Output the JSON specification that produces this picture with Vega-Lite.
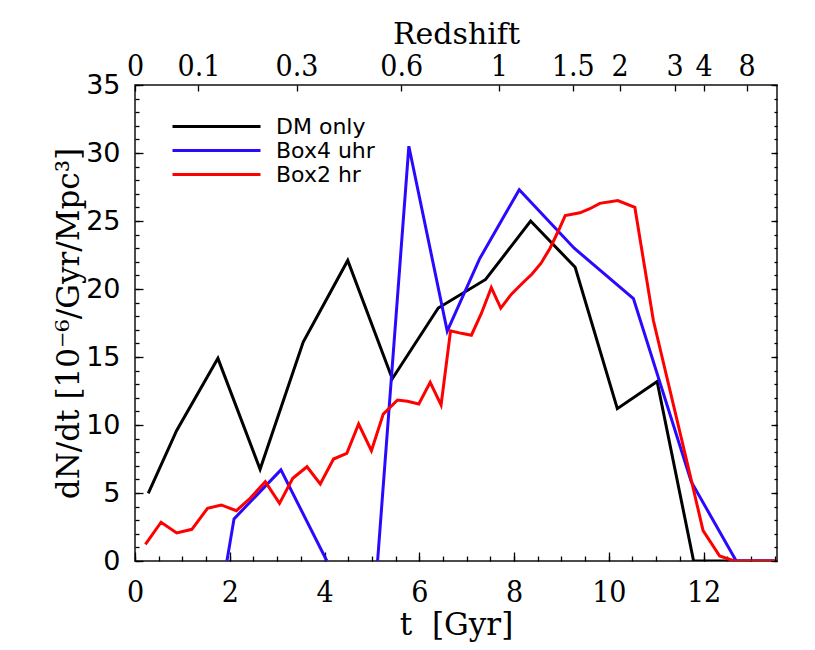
{
  "$schema": "https://vega.github.io/schema/vega-lite/v6.json",
  "autosize": {"type": "none"},
  "width": 642,
  "height": 476,
  "padding": {"left": 135, "top": 85, "right": 38, "bottom": 89},
  "background": "white",
  "config": {
    "view": {"stroke": "#111111", "strokeWidth": 1.5},
    "axis": {"domain": false, "grid": false, "ticks": true, "zindex": 1, "tickColor": "#000000", "tickWidth": 1.3, "tickOpacity": 1, "labelColor": "black", "titleColor": "black", "titleFontWeight": "normal"},
    "axisX": {"ticks": true, "tickColor": "#000000", "tickWidth": 1.3, "tickOpacity": 1},
    "axisY": {"ticks": true, "tickColor": "#000000", "tickWidth": 1.3, "tickOpacity": 1}
  },
  "data": {"values": [
    {"s": "DM only", "seg": "a", "t": 0.28, "v": 4.98},
    {"s": "DM only", "seg": "a", "t": 0.88, "v": 9.6},
    {"s": "DM only", "seg": "a", "t": 1.75, "v": 14.9},
    {"s": "DM only", "seg": "a", "t": 2.64, "v": 6.74},
    {"s": "DM only", "seg": "a", "t": 3.55, "v": 16.1},
    {"s": "DM only", "seg": "a", "t": 4.49, "v": 22.1},
    {"s": "DM only", "seg": "a", "t": 5.43, "v": 13.4},
    {"s": "DM only", "seg": "a", "t": 6.40, "v": 18.6},
    {"s": "DM only", "seg": "a", "t": 7.40, "v": 20.7},
    {"s": "DM only", "seg": "a", "t": 8.35, "v": 25.0},
    {"s": "DM only", "seg": "a", "t": 9.29, "v": 21.6},
    {"s": "DM only", "seg": "a", "t": 10.18, "v": 11.2},
    {"s": "DM only", "seg": "a", "t": 11.02, "v": 13.2},
    {"s": "DM only", "seg": "a", "t": 11.79, "v": 0},
    {"s": "DM only", "seg": "a", "t": 12.70, "v": 0},
    {"s": "DM only", "seg": "a", "t": 13.50, "v": 0},
    {"s": "Box4 uhr", "seg": "a", "t": 1.94, "v": 0},
    {"s": "Box4 uhr", "seg": "a", "t": 2.09, "v": 3.1},
    {"s": "Box4 uhr", "seg": "a", "t": 3.08, "v": 6.7},
    {"s": "Box4 uhr", "seg": "a", "t": 4.05, "v": 0},
    {"s": "Box4 uhr", "seg": "b", "t": 5.12, "v": 0},
    {"s": "Box4 uhr", "seg": "b", "t": 5.78, "v": 30.5},
    {"s": "Box4 uhr", "seg": "b", "t": 6.59, "v": 16.9},
    {"s": "Box4 uhr", "seg": "b", "t": 7.27, "v": 22.2},
    {"s": "Box4 uhr", "seg": "b", "t": 8.11, "v": 27.3},
    {"s": "Box4 uhr", "seg": "b", "t": 9.27, "v": 23.0},
    {"s": "Box4 uhr", "seg": "b", "t": 10.52, "v": 19.3},
    {"s": "Box4 uhr", "seg": "b", "t": 11.74, "v": 5.83},
    {"s": "Box4 uhr", "seg": "b", "t": 12.69, "v": 0},
    {"s": "Box4 uhr", "seg": "b", "t": 13.50, "v": 0},
    {"s": "Box2 hr", "seg": "a", "t": 0.22, "v": 1.23},
    {"s": "Box2 hr", "seg": "a", "t": 0.55, "v": 2.85},
    {"s": "Box2 hr", "seg": "a", "t": 0.88, "v": 2.06},
    {"s": "Box2 hr", "seg": "a", "t": 1.20, "v": 2.33},
    {"s": "Box2 hr", "seg": "a", "t": 1.53, "v": 3.87},
    {"s": "Box2 hr", "seg": "a", "t": 1.82, "v": 4.12},
    {"s": "Box2 hr", "seg": "a", "t": 2.14, "v": 3.70},
    {"s": "Box2 hr", "seg": "a", "t": 2.43, "v": 4.61},
    {"s": "Box2 hr", "seg": "a", "t": 2.75, "v": 5.83},
    {"s": "Box2 hr", "seg": "a", "t": 3.05, "v": 4.24},
    {"s": "Box2 hr", "seg": "a", "t": 3.33, "v": 6.08},
    {"s": "Box2 hr", "seg": "a", "t": 3.63, "v": 6.93},
    {"s": "Box2 hr", "seg": "a", "t": 3.91, "v": 5.66},
    {"s": "Box2 hr", "seg": "a", "t": 4.19, "v": 7.50},
    {"s": "Box2 hr", "seg": "a", "t": 4.47, "v": 7.92},
    {"s": "Box2 hr", "seg": "a", "t": 4.72, "v": 10.07},
    {"s": "Box2 hr", "seg": "a", "t": 4.99, "v": 8.11},
    {"s": "Box2 hr", "seg": "a", "t": 5.24, "v": 10.80},
    {"s": "Box2 hr", "seg": "a", "t": 5.54, "v": 11.84},
    {"s": "Box2 hr", "seg": "a", "t": 5.75, "v": 11.74},
    {"s": "Box2 hr", "seg": "a", "t": 5.99, "v": 11.54},
    {"s": "Box2 hr", "seg": "a", "t": 6.23, "v": 13.14},
    {"s": "Box2 hr", "seg": "a", "t": 6.46, "v": 11.47},
    {"s": "Box2 hr", "seg": "a", "t": 6.66, "v": 16.93},
    {"s": "Box2 hr", "seg": "a", "t": 6.89, "v": 16.74},
    {"s": "Box2 hr", "seg": "a", "t": 7.10, "v": 16.60},
    {"s": "Box2 hr", "seg": "a", "t": 7.31, "v": 18.20},
    {"s": "Box2 hr", "seg": "a", "t": 7.52, "v": 20.10},
    {"s": "Box2 hr", "seg": "a", "t": 7.72, "v": 18.60},
    {"s": "Box2 hr", "seg": "a", "t": 7.94, "v": 19.60},
    {"s": "Box2 hr", "seg": "a", "t": 8.17, "v": 20.40},
    {"s": "Box2 hr", "seg": "a", "t": 8.38, "v": 21.10},
    {"s": "Box2 hr", "seg": "a", "t": 8.57, "v": 21.90},
    {"s": "Box2 hr", "seg": "a", "t": 8.76, "v": 23.00},
    {"s": "Box2 hr", "seg": "a", "t": 8.94, "v": 24.30},
    {"s": "Box2 hr", "seg": "a", "t": 9.08, "v": 25.40},
    {"s": "Box2 hr", "seg": "a", "t": 9.39, "v": 25.60},
    {"s": "Box2 hr", "seg": "a", "t": 9.60, "v": 25.90},
    {"s": "Box2 hr", "seg": "a", "t": 9.81, "v": 26.30},
    {"s": "Box2 hr", "seg": "a", "t": 10.19, "v": 26.50},
    {"s": "Box2 hr", "seg": "a", "t": 10.55, "v": 26.00},
    {"s": "Box2 hr", "seg": "a", "t": 10.94, "v": 17.70},
    {"s": "Box2 hr", "seg": "a", "t": 11.74, "v": 5.96},
    {"s": "Box2 hr", "seg": "a", "t": 11.99, "v": 2.23},
    {"s": "Box2 hr", "seg": "a", "t": 12.34, "v": 0.37},
    {"s": "Box2 hr", "seg": "a", "t": 12.65, "v": 0},
    {"s": "Box2 hr", "seg": "a", "t": 13.50, "v": 0}
  ]},
  "layer": [
    {
      "transform": [{"filter": "datum.s === 'DM only'"}],
      "mark": {"type": "line", "strokeWidth": 3, "clip": true},
      "encoding": {
        "x": {
          "field": "t", "type": "quantitative",
          "scale": {"domain": [0, 13.55], "nice": false, "zero": false},
          "axis": {
            "orient": "bottom", "title": "t\u00a0 [Gyr]",
            "values": [0, 2, 4, 6, 8, 10, 12],
            "labelExpr": "'' + datum.value",
            "ticks": true, "tickColor": "#000000", "tickWidth": 1.3, "tickOpacity": 1,
            "offset": -9, "tickSize": 9, "labelPadding": 16,
            "labelFont": "DejaVu Serif Condensed", "labelFontSize": 30,
            "labelFlush": false, "labelOverlap": false,
            "titleFont": "DejaVu Serif", "titleFontSize": 31, "titlePadding": 3
          }
        },
        "y": {
          "field": "v", "type": "quantitative",
          "scale": {"domain": [0, 35], "nice": false},
          "axis": {
            "orient": "left", "title": "dN/dt [10⁻⁶/Gyr/Mpc³]",
            "values": [0, 5, 10, 15, 20, 25, 30, 35],
            "ticks": true, "tickColor": "#000000", "tickWidth": 1.3, "tickOpacity": 1,
            "offset": -8, "tickSize": 8, "labelPadding": 15,
            "labelFont": "DejaVu Sans", "labelFontSize": 27, "labelOverlap": false,
            "titleFont": "DejaVu Serif", "titleFontSize": 31, "titlePadding": 0
          }
        },
        "color": {
          "field": "s", "type": "nominal",
          "scale": {"domain": ["DM only", "Box4 uhr", "Box2 hr"], "range": ["#000000", "#2a0aff", "#ff0000"]},
          "legend": {
            "orient": "none", "legendX": 70, "legendY": 30, "title": null,
            "symbolType": "M-4.4,0H4.4", "symbolSize": 400, "symbolStrokeWidth": 3,
            "rowPadding": 1, "labelFont": "DejaVu Sans", "labelFontSize": 22,
            "labelColor": "black", "labelOffset": 48, "padding": 0
          }
        }
      }
    },
    {
      "transform": [{"filter": "datum.s === 'Box4 uhr' && datum.seg === 'a'"}],
      "mark": {"type": "line", "strokeWidth": 3, "clip": true},
      "encoding": {
        "x": {
          "field": "t", "type": "quantitative",
          "scale": {"domain": [0, 13.55], "nice": false, "zero": false},
          "axis": {
            "orient": "bottom", "title": null, "labels": false,
            "values": [0,0.5,1,1.5,2,2.5,3,3.5,4,4.5,5,5.5,6,6.5,7,7.5,8,8.5,9,9.5,10,10.5,11,11.5,12,12.5,13,13.5],
            "ticks": true, "tickColor": "#000000", "tickWidth": 1.3, "tickOpacity": 1,
            "offset": -5, "tickSize": 5
          }
        },
        "y": {
          "field": "v", "type": "quantitative",
          "scale": {"domain": [0, 35], "nice": false},
          "axis": {
            "orient": "left", "title": null, "labels": false,
            "values": [0,1,2,3,4,5,6,7,8,9,10,11,12,13,14,15,16,17,18,19,20,21,22,23,24,25,26,27,28,29,30,31,32,33,34,35],
            "ticks": true, "tickColor": "#000000", "tickWidth": 1.3, "tickOpacity": 1,
            "offset": -4, "tickSize": 4
          }
        },
        "color": {
          "field": "s", "type": "nominal",
          "scale": {"domain": ["DM only", "Box4 uhr", "Box2 hr"], "range": ["#000000", "#2a0aff", "#ff0000"]},
          "legend": {
            "orient": "none", "legendX": 70, "legendY": 30, "title": null,
            "symbolType": "M-4.4,0H4.4", "symbolSize": 400, "symbolStrokeWidth": 3,
            "rowPadding": 1, "labelFont": "DejaVu Sans", "labelFontSize": 22,
            "labelColor": "black", "labelOffset": 48, "padding": 0
          }
        }
      }
    },
    {
      "transform": [{"filter": "datum.s === 'Box4 uhr' && datum.seg === 'b'"}],
      "mark": {"type": "line", "strokeWidth": 3, "clip": true},
      "encoding": {
        "x": {
          "field": "t", "type": "quantitative",
          "scale": {"domain": [0, 13.55], "nice": false, "zero": false},
          "axis": null
        },
        "y": {
          "field": "v", "type": "quantitative",
          "scale": {"domain": [0, 35], "nice": false},
          "axis": {
            "orient": "right", "title": null, "labels": false,
            "values": [0,1,2,3,4,5,6,7,8,9,10,11,12,13,14,15,16,17,18,19,20,21,22,23,24,25,26,27,28,29,30,31,32,33,34,35],
            "ticks": true, "tickColor": "#000000", "tickWidth": 1.3, "tickOpacity": 1,
            "offset": -3, "tickSize": 3
          }
        },
        "color": {
          "field": "s", "type": "nominal",
          "scale": {"domain": ["DM only", "Box4 uhr", "Box2 hr"], "range": ["#000000", "#2a0aff", "#ff0000"]},
          "legend": {
            "orient": "none", "legendX": 70, "legendY": 30, "title": null,
            "symbolType": "M-4.4,0H4.4", "symbolSize": 400, "symbolStrokeWidth": 3,
            "rowPadding": 1, "labelFont": "DejaVu Sans", "labelFontSize": 22,
            "labelColor": "black", "labelOffset": 48, "padding": 0
          }
        }
      }
    },
    {
      "transform": [{"filter": "datum.s === 'Box2 hr'"}],
      "mark": {"type": "line", "strokeWidth": 3, "clip": true},
      "encoding": {
        "x": {
          "field": "t", "type": "quantitative",
          "scale": {"domain": [0, 13.55], "nice": false, "zero": false},
          "axis": {
            "orient": "top", "title": "Redshift",
            "values": [0, 1.34, 3.41, 5.62, 7.68, 9.24, 10.23, 11.39, 12.0, 12.91],
            "labelExpr": "datum.value < 0.5 ? '0' : datum.value < 2 ? '0.1' : datum.value < 4 ? '0.3' : datum.value < 6.5 ? '0.6' : datum.value < 8.5 ? '1' : datum.value < 9.7 ? '1.5' : datum.value < 10.8 ? '2' : datum.value < 11.7 ? '3' : datum.value < 12.5 ? '4' : '8'",
            "ticks": true, "tickColor": "#000000", "tickWidth": 1.3, "tickOpacity": 1,
            "offset": -6, "tickSize": 6, "labelPadding": 4,
            "labelFont": "DejaVu Serif Condensed", "labelFontSize": 30,
            "labelFlush": false, "labelOverlap": false,
            "titleFont": "DejaVu Serif", "titleFontSize": 30, "titlePadding": 2
          }
        },
        "y": {
          "field": "v", "type": "quantitative",
          "scale": {"domain": [0, 35], "nice": false},
          "axis": {
            "orient": "right", "title": null, "labels": false,
            "values": [0, 5, 10, 15, 20, 25, 30, 35],
            "ticks": true, "tickColor": "#000000", "tickWidth": 1.3, "tickOpacity": 1,
            "offset": -6, "tickSize": 6
          }
        },
        "color": {
          "field": "s", "type": "nominal",
          "scale": {"domain": ["DM only", "Box4 uhr", "Box2 hr"], "range": ["#000000", "#2a0aff", "#ff0000"]},
          "legend": {
            "orient": "none", "legendX": 70, "legendY": 30, "title": null,
            "symbolType": "M-4.4,0H4.4", "symbolSize": 400, "symbolStrokeWidth": 3,
            "rowPadding": 1, "labelFont": "DejaVu Sans", "labelFontSize": 22,
            "labelColor": "black", "labelOffset": 48, "padding": 0
          }
        }
      }
    }
  ],
  "resolve": {"axis": {"x": "independent", "y": "independent"}}
}
